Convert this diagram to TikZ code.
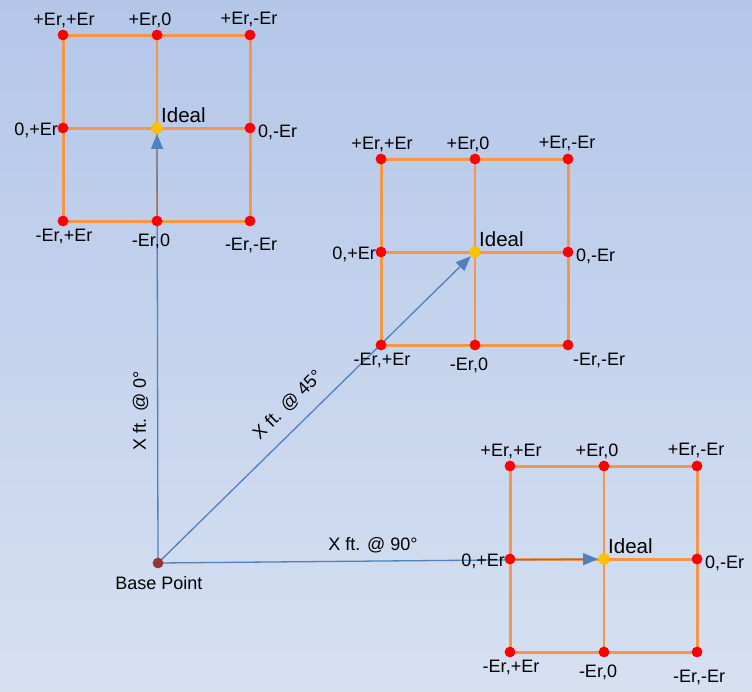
\documentclass[tikz,border=0pt]{standalone}
\usepackage{fontspec}
\setmainfont{Liberation Sans}
\usetikzlibrary{arrows.meta}
\pgfdeclarelayer{bg}
\pgfdeclarelayer{lines}
\pgfsetlayers{bg,lines,main}
\definecolor{bgtop}{RGB}{180,199,233}
\definecolor{bgbot}{RGB}{214,224,241}
\definecolor{gridor}{RGB}{247,150,70}
\definecolor{arrblue}{RGB}{79,129,189}
\definecolor{dotred}{RGB}{255,0,0}
\definecolor{idealy}{RGB}{255,192,0}
\definecolor{baseb}{RGB}{150,54,52}
\tikzset{
  erdot/.style={circle,fill=dotred,inner sep=0pt,minimum size=10.8pt},
  idealdot/.style={circle,fill=idealy,inner sep=0pt,minimum size=11.5pt},
  basedot/.style={circle,fill=baseb,inner sep=0pt,minimum size=10.8pt},
  gridline/.style={draw=gridor,line width=3pt},
  gridthin/.style={draw=gridor,line width=1.5pt},
  lbl/.style={inner sep=0pt,font=\fontsize{18}{18}\selectfont},
  ideallbl/.style={inner sep=0pt,anchor=west,font=\fontsize{20.5}{20.5}\selectfont},
  arrlbl/.style={inner sep=0pt,font=\fontsize{18}{18}\selectfont},
  bluearrow/.style={draw=arrblue,line width=1.3pt,-{Triangle[length=15pt,width=12pt]}}
}
\newcommand\ergrid[5]{%
\begin{scope}[shift={(#2,#3)}]
  \node[erdot] (#1a) at (-94,-93) {};
  \node[erdot] (#1b) at (0,-93) {};
  \node[erdot] (#1c) at (93,-93) {};
  \node[erdot] (#1d) at (-94,0) {};
  \node[idealdot] (#1e) at (0,0) {};
  \node[erdot] (#1f) at (93,0) {};
  \node[erdot] (#1g) at (-94,93) {};
  \node[erdot] (#1h) at (0,93) {};
  \node[erdot] (#1i) at (93,93) {};
  \begin{pgfonlayer}{lines}
    \draw[gridline] (#1a.center) -- (#1c.center) -- (#1i.center) -- (#1g.center) -- cycle;
    \draw[gridline] (#1d.center) -- (#1f.center);
    \draw[gridthin] (#1b.center) -- (#1h.center);
  \end{pgfonlayer}
  \node[lbl] (#1la) at (-93,-108) {+Er,+Er};
  \node[lbl] (#1lb) at (-7,-108) {+Er,0};
  \node[lbl] (#1lc) at (92,-109) {+Er,-Er};
  \node[lbl,anchor=east] (#1ld) at (-99,2) {0,+Er};
  \node[ideallbl] (#1le) at (4,-13) {Ideal};
  \node[lbl,anchor=west] (#1lf) at (101,4) {0,-Er};
  \node[lbl] (#1lg) at (-93,108) {-Er,+Er};
  \node[lbl] (#1lh) at (-6,113) {-Er,0};
  \node[lbl] (#1li) at (#4,#5) {-Er,-Er};
\end{scope}}
\begin{document}
\begin{tikzpicture}[x=1pt,y=-1pt]
\begin{pgfonlayer}{bg}
  \shade[top color=bgtop,bottom color=bgbot] (0,0) rectangle (752,691);
\end{pgfonlayer}
\useasboundingbox (0,0) rectangle (752,691);
\ergrid{g1}{157}{128}{94}{117}
\ergrid{g2}{475}{252}{124}{108}
\ergrid{g3}{604}{559}{95}{118}
\node[basedot] (base) at (158,563) {};
\node[lbl] (baselbl) at (159,583) {Base Point};
\begin{pgfonlayer}{lines}
  \draw[bluearrow] (base.center) -- (g1e);
  \draw[bluearrow] (base.center) -- (g2e);
  \draw[bluearrow] (base.center) -- (g3e);
\end{pgfonlayer}
\node[arrlbl,rotate=90] (l0) at (140.5,411) {X ft. @ 0°};
\node[arrlbl,rotate=44.5] (l45) at (288,405) {X ft. @ 45°};
\node[arrlbl] (l90) at (373,545) {X ft. @ 90°};
\end{tikzpicture}
\end{document}
